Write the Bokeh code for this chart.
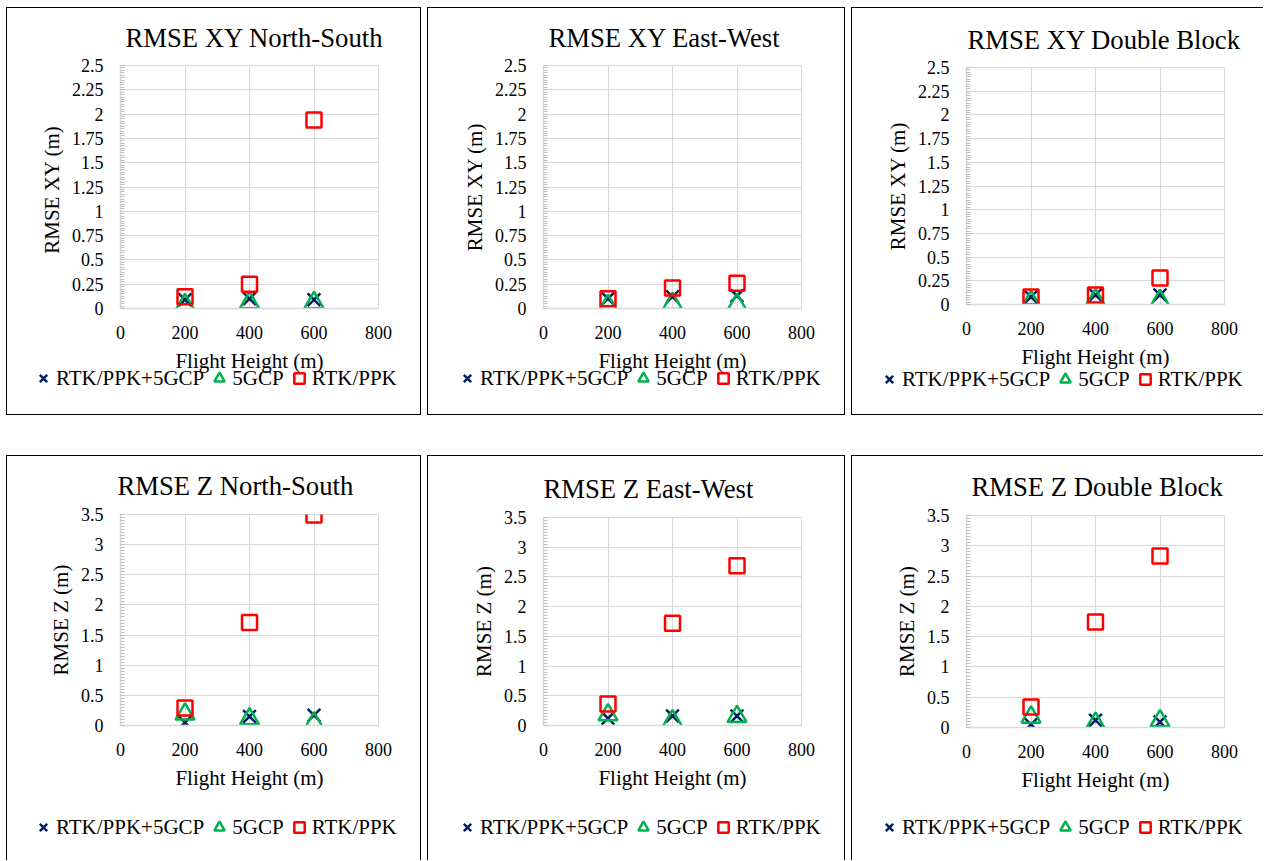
import numpy as np
from bokeh.plotting import figure
from bokeh.layouts import row, column
from bokeh.models import FixedTicker, CustomJSTickFormatter, Legend, LegendItem, Range1d
from bokeh.embed import file_html
from bokeh.resources import INLINE

# ---------------- data ----------------
flight_heights = [200, 400, 600]
series_names = ["RTK/PPK+5GCP", "5GCP", "RTK/PPK"]

panel_titles = ["RMSE XY North-South", "RMSE XY East-West", "RMSE XY Double Block",
                "RMSE Z North-South", "RMSE Z East-West", "RMSE Z Double Block"]
y_axis_labels = ["RMSE XY  (m)", "RMSE XY (m)", "RMSE XY (m)",
                 "RMSE Z (m)", "RMSE Z (m)", "RMSE Z (m)"]
x_axis_label = "Flight Height (m)"

x_ticks = [0, 200, 400, 600, 800]
y_ticks_xy = [0, 0.25, 0.5, 0.75, 1, 1.25, 1.5, 1.75, 2, 2.25, 2.5]
y_ticks_z = [0, 0.5, 1, 1.5, 2, 2.5, 3, 3.5]

# RMSE XY North-South
xy_ns_rtk5gcp = [0.09, 0.10, 0.09]
xy_ns_5gcp = [0.04, 0.06, 0.06]
xy_ns_rtk = [0.12, 0.25, 1.94]
# RMSE XY East-West
xy_ew_rtk5gcp = [0.10, 0.12, 0.13]
xy_ew_5gcp = [0.03, 0.05, 0.04]
xy_ew_rtk = [0.10, 0.21, 0.26]
# RMSE XY Double Block
xy_db_rtk5gcp = [0.08, 0.10, 0.10]
xy_db_5gcp = [0.03, 0.05, 0.04]
xy_db_rtk = [0.08, 0.10, 0.28]
# RMSE Z North-South
z_ns_rtk5gcp = [0.05, 0.15, 0.17]
z_ns_5gcp = [0.19, 0.11, 0.04]
z_ns_rtk = [0.29, 1.71, 3.49]
# RMSE Z East-West
z_ew_rtk5gcp = [0.12, 0.16, 0.16]
z_ew_5gcp = [0.18, 0.08, 0.15]
z_ew_rtk = [0.36, 1.72, 2.69]
# RMSE Z Double Block
z_db_rtk5gcp = [0.05, 0.12, 0.09]
z_db_5gcp = [0.17, 0.07, 0.11]
z_db_rtk = [0.34, 1.74, 2.83]

# ---------------- style / layout ----------------
NAVY = "#002060"
GREEN = "#00B050"
RED = "#FF0000"
GRID = "#D9D9D9"
FONT = "Liberation Serif"

SH_ALL = "inset 0 0 0 1px #000"
SH_LTB = "inset 1px 0 0 0 #000, inset 0 1px 0 0 #000, inset 0 -1px 0 0 #000"
SH_LTR = "inset 1px 0 0 0 #000, inset -1px 0 0 0 #000, inset 0 1px 0 0 #000"
SH_LT = "inset 1px 0 0 0 #000, inset 0 1px 0 0 #000"

# w: panel width; ph: plot figure height; lh: legend strip height; lm: legend strip top margin
layout_cfg = [
    dict(w=415, ph=369, lh=51, lm=-12, l=114, r=43, t=58, b=68, leg=(24, 22), toff=5, ts=25, sh=SH_ALL),
    dict(w=418, ph=369, lh=51, lm=-12, l=116, r=44, t=58, b=68, leg=(27, 22), toff=5, ts=25, sh=SH_ALL),
    dict(w=412, ph=365, lh=55, lm=-12, l=115, r=39, t=60, b=68, leg=(25, 21), toff=1, ts=25, sh=SH_LTB),
    dict(w=415, ph=338, lh=67, lm=0, l=114, r=43, t=59, b=68, leg=(24, 18), toff=-3, ts=27, sh=SH_LTR),
    dict(w=418, ph=338, lh=67, lm=0, l=116, r=44, t=62, b=68, leg=(27, 18), toff=0, ts=27, sh=SH_LTR),
    dict(w=412, ph=340, lh=65, lm=0, l=115, r=39, t=60, b=68, leg=(25, 18), toff=5, ts=27, sh=SH_LT),
]


def add_series(fig, s_x, s_tri, s_sq):
    r1 = fig.scatter(flight_heights, s_x, marker="x", size=18, line_color=NAVY, line_width=2.5)
    r2 = fig.scatter(flight_heights, s_tri, marker="triangle", size=19, line_color=GREEN,
                     fill_color=None, line_width=2.5)
    r3 = fig.scatter(flight_heights, s_sq, marker="square", size=15, line_color=RED,
                     fill_color=None, line_width=2.5)
    return r1, r2, r3


def make_panel(title, ylabel, yticks, s_x, s_tri, s_sq, cfg):
    ymax = yticks[-1]
    step = yticks[1] - yticks[0]
    minor = list(np.round(np.arange(0, ymax + 1e-9, step / 10.0), 6))
    p = figure(width=cfg["w"], height=cfg["ph"], output_backend="svg", toolbar_location=None,
               x_range=Range1d(x_ticks[0], x_ticks[-1]), y_range=Range1d(yticks[0], ymax),
               min_border_left=cfg["l"], min_border_right=cfg["r"],
               min_border_top=cfg["t"], min_border_bottom=cfg["b"],
               border_fill_color=None, background_fill_color="white",
               outline_line_color=GRID, outline_line_width=1, title=title)
    p.title.text_font = FONT
    p.title.text_font_size = "26.7px"
    p.title.text_font_style = "normal"
    p.title.text_color = "black"
    p.title.align = "left"
    p.title.offset = cfg["toff"]
    p.title.standoff = cfg["ts"]

    xa = p.xaxis[0]
    ya = p.yaxis[0]
    xa.ticker = FixedTicker(ticks=x_ticks)
    ya.ticker = FixedTicker(ticks=yticks, minor_ticks=minor)
    ya.formatter = CustomJSTickFormatter(code="return tick.toString()")
    xa.axis_label = x_axis_label
    ya.axis_label = ylabel
    for ax in (xa, ya):
        ax.axis_label_text_font = FONT
        ax.axis_label_text_font_size = "21px"
        ax.axis_label_text_font_style = "normal"
        ax.axis_label_text_color = "black"
        ax.major_label_text_font = FONT
        ax.major_label_text_font_size = "18px"
        ax.major_label_text_color = "black"
        ax.axis_line_color = GRID
        ax.axis_line_width = 1.5
    xa.major_tick_in = 0
    xa.major_tick_out = 0
    xa.minor_tick_line_color = None
    xa.major_label_standoff = 17
    xa.axis_label_standoff = 7
    ya.major_tick_in = 4
    ya.major_tick_out = 0
    ya.minor_tick_in = 4
    ya.minor_tick_out = 0
    ya.major_tick_line_color = "#BFBFBF"
    ya.minor_tick_line_color = "#BFBFBF"
    ya.major_label_standoff = 17
    ya.axis_label_standoff = 5

    p.xgrid.grid_line_color = GRID
    p.ygrid.grid_line_color = GRID
    p.xgrid.grid_line_width = 1
    p.ygrid.grid_line_width = 1

    add_series(p, s_x, s_tri, s_sq)

    # legend strip below the plot (same series, drawn outside its visible range)
    lf = figure(width=cfg["w"], height=cfg["lh"], output_backend="svg", toolbar_location=None,
                title=None, x_axis_location=None, y_axis_location=None,
                x_range=Range1d(x_ticks[0], x_ticks[-1]), y_range=Range1d(-2, -1),
                min_border=0, border_fill_color=None, background_fill_color=None,
                outline_line_color=None)
    for g in lf.grid:
        g.visible = False
    l1, l2, l3 = add_series(lf, s_x, s_tri, s_sq)
    legend = Legend(items=[LegendItem(label=series_names[0], renderers=[l1]),
                           LegendItem(label=series_names[1], renderers=[l2]),
                           LegendItem(label=series_names[2], renderers=[l3])],
                    location=cfg["leg"], orientation="horizontal",
                    label_text_font=FONT, label_text_font_size="21px", label_text_color="black",
                    glyph_width=26, glyph_height=30, label_standoff=0, spacing=2,
                    padding=0, margin=0, border_line_color=None, background_fill_alpha=0)
    lf.add_layout(legend)
    strip = row(lf, spacing=0)
    if cfg["lm"] != 0:
        strip.styles = {"margin-top": "%dpx" % cfg["lm"]}
    return column(p, strip, spacing=0, styles={"box-shadow": cfg["sh"]})


series_sets = [
    (xy_ns_rtk5gcp, xy_ns_5gcp, xy_ns_rtk),
    (xy_ew_rtk5gcp, xy_ew_5gcp, xy_ew_rtk),
    (xy_db_rtk5gcp, xy_db_5gcp, xy_db_rtk),
    (z_ns_rtk5gcp, z_ns_5gcp, z_ns_rtk),
    (z_ew_rtk5gcp, z_ew_5gcp, z_ew_rtk),
    (z_db_rtk5gcp, z_db_5gcp, z_db_rtk),
]

panels = []
for i in range(6):
    yt = y_ticks_xy if i < 3 else y_ticks_z
    sx, st, ss = series_sets[i]
    panels.append(make_panel(panel_titles[i], y_axis_labels[i], yt, sx, st, ss, layout_cfg[i]))

page = column(row(panels[0], panels[1], panels[2], spacing=6),
              row(panels[3], panels[4], panels[5], spacing=6),
              spacing=40, styles={"padding-left": "6px", "padding-top": "7px"})

open("out.html", "w").write(file_html(page, INLINE))
